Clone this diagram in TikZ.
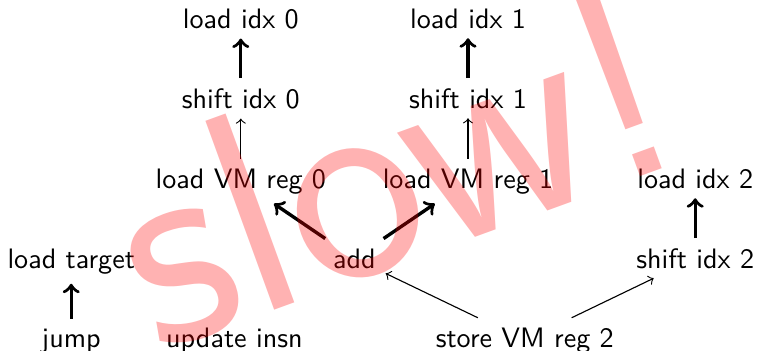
\documentclass[tikz,border=0pt]{standalone}
\usepackage{tikz}
\usetikzlibrary{arrows}
\tikzstyle{insn}=[font=\sffamily, anchor=base]
\tikzstyle{dep}=[draw, ->, thin]
\tikzstyle{bigdep}=[draw, ->, very thick]
\tikzstyle{slow}=[font=\sffamily\fontsize{103}{103}\selectfont, text=red, text opacity=0.3, rotate=20]

\begin{document}
\begin{tikzpicture}
\useasboundingbox (0,0) rectangle (9.4625,-4.3875);
% first row of the chain
\node[insn] (load0) at (3.01, -0.35) {load idx 0};
\node[insn] (load1) at (5.85, -0.35) {load idx 1};
\node[insn] (shift0) at (3.01, -1.35) {shift idx 0};
\node[insn] (shift1) at (5.85, -1.35) {shift idx 1};
\node[insn] (vm0) at (3.01, -2.35) {load VM reg 0};
\node[insn] (vm1) at (5.85, -2.35) {load VM reg 1};
\node[insn] (load2) at (8.69, -2.35) {load idx 2};
\node[insn] (target) at (0.89, -3.35) {load target};
\node[insn] (add) at (4.43, -3.35) {add};
\node[insn] (shift2) at (8.69, -3.35) {shift idx 2};
\node[insn] (jump) at (0.89, -4.34) {jump};
\node[insn] (update) at (2.93, -4.34) {update insn};
\node[insn] (store) at (6.56, -4.34) {store VM reg 2};
% edges, thick ones are the slow path
\path [bigdep] (shift0) -- (load0);
\path [dep] (vm0) -- (shift0);
\path [bigdep] (shift1) -- (load1);
\path [dep] (vm1) -- (shift1);
\path [bigdep] (shift2) -- (load2);
\path [bigdep] (jump) -- (target);
\path [bigdep] (add) -- (vm0);
\path [bigdep] (add) -- (vm1);
\path [dep] (store) -- (add);
\path [dep] (store) -- (shift2);
\node[slow] (warn) at (4.88, -2.03) {slow!};
\end{tikzpicture}
\end{document}
